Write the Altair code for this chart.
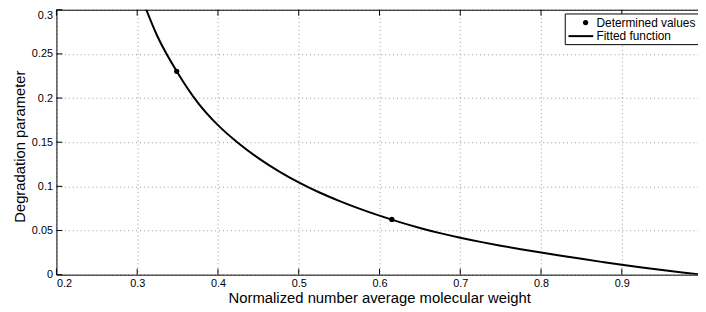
import altair as alt
import pandas as pd

# ---- data ----
curve_x = [0.30, 0.325, 0.35, 0.375, 0.40, 0.425, 0.45, 0.475, 0.50, 0.525,
           0.55, 0.575, 0.60, 0.625, 0.65, 0.675, 0.70, 0.725, 0.75, 0.775,
           0.80, 0.825, 0.85, 0.875, 0.90, 0.925, 0.95, 0.975, 1.0]
curve_y = [0.327, 0.270, 0.2287, 0.1949, 0.1693, 0.1491, 0.1320, 0.1173, 0.1045, 0.0933,
           0.0836, 0.0748, 0.0668, 0.0595, 0.0529, 0.0470, 0.0418, 0.0371, 0.0328, 0.0288,
           0.0250, 0.0214, 0.0179, 0.0145, 0.0112, 0.0081, 0.0052, 0.0025, 0.0]
point_x = [0.3489, 0.6153]
point_y = [0.2303, 0.0625]
x_ticks = [0.2, 0.3, 0.4, 0.5, 0.6, 0.7, 0.8, 0.9]
y_ticks = [0, 0.05, 0.1, 0.15, 0.2, 0.25, 0.3]
legend_labels = ["Determined values", "Fitted function"]
x_title = "Normalized number average molecular weight"
y_title = "Degradation parameter"

W, H = 649, 268
X_END = 0.2 + W / 817.0
FONT = "Liberation Sans"

curve = pd.DataFrame({"x": curve_x, "y": curve_y})
pts = pd.DataFrame({"x": point_x, "y": point_y})
xt = pd.DataFrame({"x": x_ticks})
yt = pd.DataFrame({"y": y_ticks})
one = pd.DataFrame({"a": [0]})

x_scale = alt.Scale(domain=[0.2, X_END], nice=False, zero=False)
y_scale = alt.Scale(domain=[0, 0.3], nice=False, zero=False)

grid_common = dict(grid=True, gridColor="#9a9a9a", gridDash=[1, 3], gridWidth=1,
                   ticks=False, domainColor="black", domainWidth=1,
                   labelFont=FONT, labelFontSize=11, labelColor="black",
                   titleFont=FONT, titleFontSize=15, titleFontWeight="normal",
                   titleColor="black", format="~g")

x_axis = alt.Axis(values=x_ticks, labelPadding=3, title=x_title,
                  titleX=(710 - 57) / 2, titleY=28.3, titleAlign="center",
                  titleBaseline="alphabetic", **grid_common)
y_axis = alt.Axis(values=y_ticks, labelPadding=4, title=y_title,
                  titleX=-32, titleY=138, titleAlign="center", titleAngle=270,
                  titleBaseline="alphabetic",
                  labelBaseline={"condition": {"test": "datum.value >= 0.299", "value": "top"},
                                 "value": "middle"},
                  **grid_common)

x_enc = alt.X("x:Q", scale=x_scale, axis=x_axis)
y_enc = alt.Y("y:Q", scale=y_scale, axis=y_axis)

line = alt.Chart(curve).mark_line(color="black", strokeWidth=2, clip=True,
                                  interpolate="monotone").encode(x=x_enc, y=y_enc)
dots = alt.Chart(pts).mark_point(filled=True, shape="circle", size=28, color="black",
                                 opacity=1).encode(x=x_enc, y=y_enc)

xtick_bot = alt.Chart(xt).mark_rule(color="black", strokeWidth=1).encode(
    x=x_enc, y=alt.value(H), y2=alt.value(H - 6))
xtick_top = alt.Chart(xt).mark_rule(color="black", strokeWidth=1).encode(
    x=x_enc, y=alt.value(0), y2=alt.value(6))
ytick_left = alt.Chart(yt).mark_rule(color="black", strokeWidth=1).encode(
    y=y_enc, x=alt.value(0), x2=alt.value(6))
top_border = alt.Chart(one).mark_rule(color="black", strokeWidth=1).encode(
    x=alt.value(0), x2=alt.value(W), y=alt.value(0.5))

leg_box = alt.Chart(one).mark_rect(fill="white", stroke="black", strokeWidth=1).encode(
    x=alt.value(514.7), x2=alt.value(W + 10), y=alt.value(4.3), y2=alt.value(35.3))
leg_dot = alt.Chart(one).mark_point(filled=True, shape="circle", size=28, color="black",
                                    opacity=1).encode(x=alt.value(535.3), y=alt.value(13))
leg_line = alt.Chart(one).mark_rule(color="black", strokeWidth=2).encode(
    x=alt.value(518), x2=alt.value(543), y=alt.value(26.7))
leg_t1 = alt.Chart(one).mark_text(align="left", baseline="middle", font=FONT,
                                  fontSize=12, color="black").encode(
    x=alt.value(546.3), y=alt.value(13), text=alt.value(legend_labels[0]))
leg_t2 = alt.Chart(one).mark_text(align="left", baseline="middle", font=FONT,
                                  fontSize=12, color="black").encode(
    x=alt.value(546.3), y=alt.value(27), text=alt.value(legend_labels[1]))

chart = alt.layer(
    xtick_bot, xtick_top, ytick_left, top_border, line, dots,
    leg_box, leg_dot, leg_line, leg_t1, leg_t2
).properties(
    width=W, height=H,
    autosize=alt.AutoSizeParams(type="none"),
    padding={"left": 49, "top": 0, "right": 0, "bottom": 34},
    background="white",
).configure_view(stroke=None)

chart.save("out.html", embed_options={"renderer": "svg", "actions": False})
